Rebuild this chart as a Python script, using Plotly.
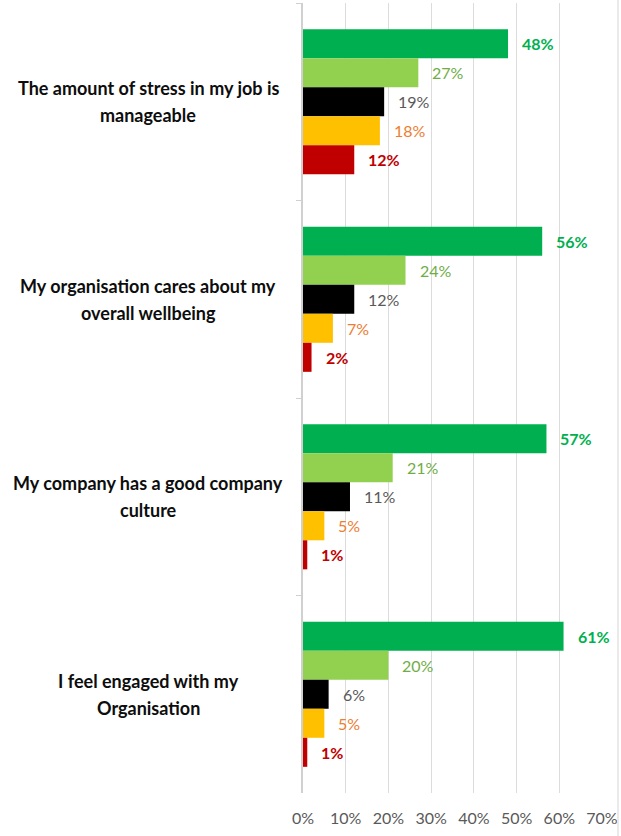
import plotly.graph_objects as go

# Survey statements (top to bottom) and the share of respondents per answer band
statements = [
    "The amount of stress in my job is<br>manageable",
    "My organisation cares about my<br>overall wellbeing",
    "My company has a good company<br>culture",
    "I feel engaged with my<br>Organisation",
]
band_1 = [0.48, 0.56, 0.57, 0.61]
band_2 = [0.27, 0.24, 0.21, 0.20]
band_3 = [0.19, 0.12, 0.11, 0.06]
band_4 = [0.18, 0.07, 0.05, 0.05]
band_5 = [0.12, 0.02, 0.01, 0.01]
x_ticks = [0, 0.1, 0.2, 0.3, 0.4, 0.5, 0.6, 0.7]
x_tick_labels = ["0%", "10%", "20%", "30%", "40%", "50%", "60%", "70%"]

series = [
    (band_1, "#00B050", "#00B050", True),
    (band_2, "#92D050", "#70AD47", False),
    (band_3, "#000000", "#595959", False),
    (band_4, "#FFC000", "#ED7D31", False),
    (band_5, "#C00000", "#C00000", True),
]

W, H = 621, 836
M_L, M_R, M_T, M_B = 303, 19, 3, 43
BARGAP = 0.265
FONT = "Lato"

fig = go.Figure()
for vals, bar_col, _, _ in series:
    fig.add_trace(go.Bar(
        x=vals, y=statements, orientation="h",
        marker=dict(color=bar_col, line=dict(width=0)),
        hoverinfo="skip", showlegend=False,
    ))

# Value labels beside each bar, shifted to the bar's slot inside its group
plot_h = H - M_T - M_B
bar_px = plot_h / len(statements) * (1 - BARGAP) / len(series)
annotations = []
for i, (vals, _, txt_col, bold) in enumerate(series):
    yshift = (len(series) - 1) / 2 * bar_px - i * bar_px
    for cat, v in zip(statements, vals):
        label = f"{round(v * 100)}%"
        if bold:
            label = f"<b>{label}</b>"
        annotations.append(dict(
            x=v, y=cat, xref="x", yref="y", text=label, showarrow=False,
            xanchor="left", yanchor="middle", xshift=12, yshift=yshift,
            font=dict(family=FONT, size=16, color=txt_col),
        ))

# Statement labels, two centred lines to the left of the plot
plot_w = W - M_L - M_R
LINE_GAP = 27
for cat in statements:
    lines = cat.split("<br>")
    for k, line in enumerate(lines):
        annotations.append(dict(
            x=(148 - M_L) / plot_w, y=cat, xref="paper", yref="y",
            text=f"<b>{line}</b>", showarrow=False, align="center",
            xanchor="center", yanchor="middle",
            yshift=((len(lines) - 1) / 2 - k) * LINE_GAP,
            font=dict(family=FONT, size=18, color="#0D0D0D"),
        ))

fig.update_layout(
    width=W, height=H,
    margin=dict(l=M_L, r=M_R, t=M_T, b=M_B, pad=0),
    paper_bgcolor="white", plot_bgcolor="white",
    barmode="group", bargap=BARGAP, bargroupgap=0,
    annotations=annotations,
    shapes=[dict(type="line", xref="paper", yref="paper",
                 x0=(618 - M_L) / plot_w, x1=(618 - M_L) / plot_w,
                 y0=-M_B / plot_h, y1=1 + M_T / plot_h,
                 line=dict(color="#E3E3E3", width=1.5))],
)
fig.update_xaxes(
    range=[0, 0.7], tickvals=x_ticks, ticktext=x_tick_labels,
    showgrid=True, gridcolor="#DCDCDC", gridwidth=1,
    zeroline=False, showline=False, ticks="",
    ticklabelstandoff=14,
    tickfont=dict(family=FONT, size=16, color="#595959"),
)
fig.update_yaxes(
    autorange="reversed", showticklabels=False,
    showline=True, linecolor="#D0D0D0", linewidth=1.5,
    ticks="outside", tickson="boundaries", ticklen=5, tickcolor="#D0D0D0",
    showgrid=False, zeroline=False,
)

fig.write_html("out.html")
